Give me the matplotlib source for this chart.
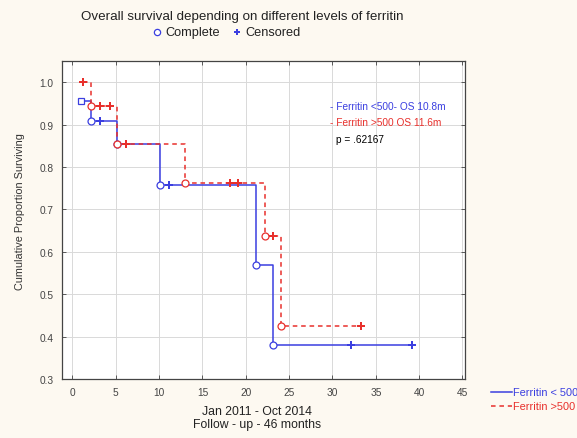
import matplotlib
matplotlib.use("Agg")
import matplotlib.pyplot as plt
from matplotlib.lines import Line2D

plt.rcParams.update({
    "font.family": ["Liberation Sans", "DejaVu Sans"],
    "font.size": 7,
    "text.color": "#222222",
})

# Ferritin < 500 (blue, solid)
blue_start = (1.0, 0.955)
blue_event_t = [2.2, 5.1, 10.1, 21.2, 23.1]
blue_event_s = [0.909, 0.855, 0.758, 0.570, 0.380]
blue_cens_t = [3.2, 11.1, 32.1, 39.2]
blue_cens_s = [0.909, 0.758, 0.380, 0.380]
blue_end = 39.2

# Ferritin > 500 (red, dashed)
red_start = (1.2, 1.0)
red_event_t = [2.2, 5.2, 13.0, 22.2, 24.1]
red_event_s = [0.944, 0.855, 0.762, 0.638, 0.425]
red_cens_t = [1.2, 3.2, 4.3, 6.2, 18.2, 19.1, 23.1, 33.3]
red_cens_s = [1.0, 0.944, 0.944, 0.855, 0.762, 0.762, 0.638, 0.425]
red_end = 33.3

xticks = [0, 5, 10, 15, 20, 25, 30, 35, 40, 45]
yticks = [0.3, 0.4, 0.5, 0.6, 0.7, 0.8, 0.9, 1.0]

BLUE = "#3b3fe0"
RED = "#e8302c"
BG = "#fdf9f1"


def step_path(start, ev_t, ev_s, end):
    xs = [start[0]] + ev_t + [end]
    ys = [start[1]] + ev_s + [ev_s[-1]]
    return xs, ys


fig = plt.figure(figsize=(5.77, 4.39), dpi=100, facecolor=BG)
ax = fig.add_axes([0.1075, 0.1344, 0.6985, 0.7244])
ax.set_facecolor("white")

bx, by = step_path(blue_start, blue_event_t, blue_event_s, blue_end)
rx, ry = step_path(red_start, red_event_t, red_event_s, red_end)
ax.step(bx, by, where="post", color=BLUE, lw=1.1, zorder=3)
ax.step(rx, ry, where="post", color=RED, lw=1.1, ls=(0, (3, 2.5)), zorder=3)

# complete (event) markers
ax.plot(blue_event_t, blue_event_s, "o", mfc="white", mec=BLUE, ms=5, mew=0.9, zorder=4)
ax.plot([blue_start[0]], [blue_start[1]], "s", mfc="white", mec=BLUE, ms=5, mew=0.9, zorder=4)
ax.plot(red_event_t, red_event_s, "o", mfc="white", mec=RED, ms=5, mew=0.9, zorder=4)
# censored markers
ax.plot(blue_cens_t, blue_cens_s, "P", color=BLUE, ms=5.5, mew=0, zorder=5)
ax.plot(red_cens_t, red_cens_s, "P", color=RED, ms=5.5, mew=0, zorder=5)

ax.set_xlim(-1.2, 45.3)
ax.set_ylim(0.3, 1.05)
ax.set_xticks(xticks)
ax.set_yticks(yticks)
ax.set_yticklabels([f"{v:.1f}" for v in yticks])
ax.grid(True, color="#d9d9d9", lw=0.7)
ax.set_axisbelow(True)
ax.tick_params(direction="in", top=True, right=True, length=3, width=0.6,
               labelsize=7.3, pad=6, colors="#444444")
for s in ax.spines.values():
    s.set_color("#444444")
    s.set_linewidth(0.9)

ax.set_ylabel("Cumulative Proportion Surviving", fontsize=7.8, color="#333333")
ax.yaxis.set_label_coords(-0.092, 0.53)

# annotation box
ax.text(0.665, 0.85, "- Ferritin <500- OS 10.8m", color=BLUE, fontsize=7.3,
        transform=ax.transAxes)
ax.text(0.665, 0.80, "- Ferritin >500 OS 11.6m", color=RED, fontsize=7.3,
        transform=ax.transAxes)
ax.text(0.68, 0.745, "p = .62167", color="black", fontsize=7.3,
        transform=ax.transAxes)

# titles
fig.text(0.42, 0.962, "Overall survival depending on different levels of ferritin",
         ha="center", va="center", fontsize=9.6)
fig.text(0.286, 0.925, "Complete", ha="left", va="center", fontsize=9.2)
fig.text(0.425, 0.925, "Censored", ha="left", va="center", fontsize=9.2)
fig.add_artist(Line2D([0.272], [0.925], marker="o", mfc="white", mec=BLUE, ms=4.5,
                      mew=0.9, ls="none", transform=fig.transFigure))
fig.add_artist(Line2D([0.411], [0.925], marker="P", color=BLUE, ms=5,
                      mew=0, ls="none", transform=fig.transFigure))

fig.text(0.445, 0.0615, "Jan 2011 - Oct 2014", ha="center", va="center", fontsize=8.8)
fig.text(0.445, 0.032, "Follow - up - 46 months", ha="center", va="center", fontsize=8.8)

# bottom-right line legend
fig.add_artist(Line2D([0.851, 0.887], [0.105, 0.105], color=BLUE, lw=1.1,
                      transform=fig.transFigure))
fig.add_artist(Line2D([0.851, 0.887], [0.073, 0.073], color=RED, lw=1.1,
                      ls=(0, (3, 2.5)), transform=fig.transFigure))
fig.text(0.889, 0.105, "Ferritin < 500", color=BLUE, va="center", fontsize=7.9)
fig.text(0.889, 0.073, "Ferritin >500", color=RED, va="center", fontsize=7.9)

fig.savefig("out.png", dpi=100, facecolor=BG)
